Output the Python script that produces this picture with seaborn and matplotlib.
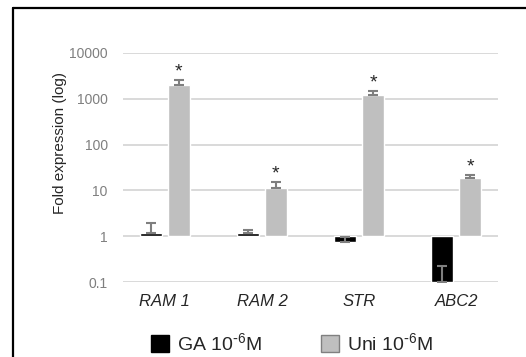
"""Relative expression bar chart (log scale) for GA vs Uni treatment."""

import matplotlib
matplotlib.use("Agg")
import matplotlib.pyplot as plt
from matplotlib.lines import Line2D
from matplotlib.patches import Patch
import numpy as np
import pandas as pd
import seaborn as sns

genes = ["RAM 1", "RAM 2", "STR", "ABC2"]
treatments = ["GA 10$^{\\text{-}6}$M", "Uni 10$^{\\text{-}6}$M"]
ga_values = [1.18, 1.15, 0.73, 0.10]
ga_err_top = [1.9, 1.4, 0.97, 0.22]
uni_values = [1980, 11.3, 1200, 19.1]
uni_err_top = [2550, 15.1, 1460, 21.5]
y_ticks = [0.1, 1, 10, 100, 1000, 10000]
y_label = "Fold expression (log)"
colors = ["#000000", "#bfbfbf"]

sns.set_style("white")
plt.rcParams["font.family"] = ["Liberation Sans", "DejaVu Sans"]
plt.rcParams["mathtext.default"] = "regular"

# bars hang from 1, so plot log10 values on a linear axis
df = pd.DataFrame({
    "gene": genes * 2,
    "treatment": [treatments[0]] * len(genes) + [treatments[1]] * len(genes),
    "logval": np.log10(ga_values + uni_values),
})

fig = plt.figure(figsize=(5.26, 3.57), dpi=100)
ax = fig.add_axes([123 / 526, 1 - 282 / 357, 375 / 526, 229 / 357])

sns.barplot(data=df, x="gene", y="logval", hue="treatment", palette=colors,
            saturation=1, width=0.574, gap=0.22, legend=False, ax=ax)

series = [(ga_values, ga_err_top, False), (uni_values, uni_err_top, True)]
for container, (vals, tops, star) in zip(ax.containers, series):
    for bar, v, t in zip(container, vals, tops):
        x = bar.get_x() + bar.get_width() / 2
        lo, hi = np.log10(v), np.log10(t)
        ax.errorbar(x, lo, yerr=[[0], [hi - lo]], fmt="none", ecolor="#7f7f7f",
                    elinewidth=1.5, capsize=3.5, capthick=1.5, zorder=3)
        if star:
            ax.text(x, hi, "*", ha="center", va="bottom", fontsize=14)

ax.set_ylim(-1, 4)
ax.set_yticks(np.log10(y_ticks))
ax.set_yticklabels([f"{t:g}" for t in y_ticks])
ax.set_xlabel("")
ax.set_ylabel("")
ax.tick_params(axis="y", length=0, pad=11, labelcolor="#7f7f7f", labelsize=10)
ax.tick_params(axis="x", length=0, pad=9, labelsize=12)
for lbl in ax.get_xticklabels():
    lbl.set_style("italic")

ax.yaxis.grid(True, color="#d9d9d9", lw=1.4)
ax.set_axisbelow(True)
sns.despine(ax=ax, left=True, bottom=True)

handles = [Patch(facecolor=colors[0], edgecolor=colors[0]),
           Patch(facecolor=colors[1], edgecolor="#808080")]
fig.legend(handles, treatments, loc="center", bbox_to_anchor=(292 / 526, 1 - 343 / 357),
           ncol=2, frameon=False, fontsize=14, handlelength=0.95, handleheight=0.95,
           handletextpad=0.4, columnspacing=3.0)

fig.text(60 / 526, 1 - 143 / 357, y_label, rotation=90, ha="center", va="center", fontsize=11)

# outer frame (left and top edges visible)
fig.add_artist(Line2D([12.5 / 526, 12.5 / 526], [0, 1 - 7.5 / 357], color="black", lw=1.6,
                      transform=fig.transFigure))
fig.add_artist(Line2D([12.5 / 526, 1], [1 - 7.5 / 357, 1 - 7.5 / 357], color="black", lw=1.6,
                      transform=fig.transFigure))

fig.savefig("out.png", dpi=100)
plt.close(fig)
